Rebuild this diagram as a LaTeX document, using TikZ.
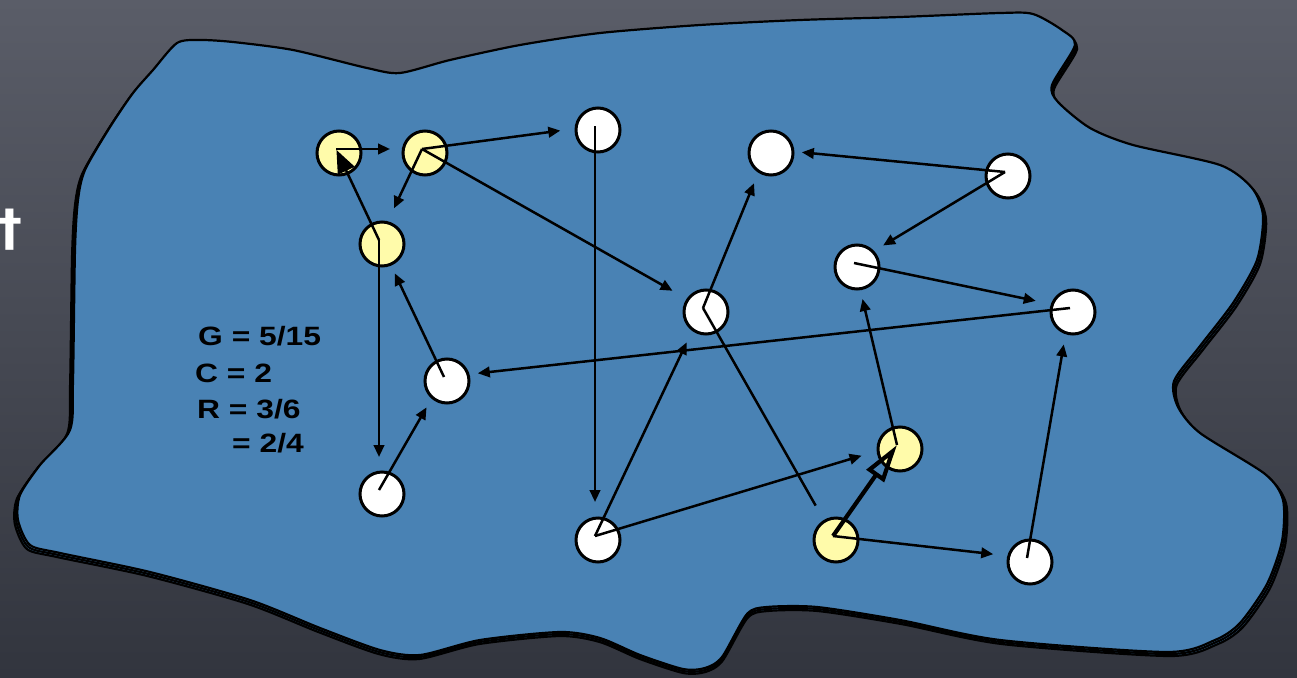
\documentclass[tikz,border=0pt]{standalone}
\usepackage{fontspec}
\setmainfont{Liberation Sans}
\newfontfamily\djv{DejaVu Sans}
\newfontfamily\statfont[FakeStretch=1.2]{Liberation Sans}
\usetikzlibrary{arrows.meta,calc}
\definecolor{bgtop}{RGB}{90,93,104}
\definecolor{bgbot}{RGB}{50,53,62}
\definecolor{blobblue}{RGB}{73,130,180}
\definecolor{nodeyellow}{RGB}{255,251,170}
\tikzset{
  vert/.style={circle, draw=black, line width=3pt, minimum size=44pt, inner sep=0pt},
  wv/.style={vert, fill=white},
  yv/.style={vert, fill=nodeyellow},
  edge/.style={line width=2.5pt, shorten >=35pt, -{Triangle[length=12pt,width=10.5pt]}},
  plainedge/.style={line width=2.5pt, shorten >=35pt},
  bigedge/.style={line width=2.5pt, shorten >=1pt, -{Triangle[length=23pt,width=18pt]}},
  openedge/.style={line width=4.2pt, shorten >=0pt, -{Triangle[open,length=38pt,width=21pt]}},
  blobline/.style={draw=black, line width=2.2pt, fill=blobblue},
  stat/.style={font=\statfont\bfseries\fontsize{26.5}{30}\selectfont, anchor=base west, inner sep=0pt}
}
\begin{document}
\begin{tikzpicture}[x=1pt,y=-1pt]
\useasboundingbox (0,0) rectangle (1297,677);
\clip (0,0) rectangle (1297,677);
\shade[top color=bgtop, bottom color=bgbot] (0,0) rectangle (1297,677);
\node[text=white, font=\djv\bfseries\fontsize{50}{50}\selectfont] (dag) at (10,230) {†};
% blob with layered outline
\foreach \s/\k in {4/1.005,2/1.0025,0/1} {
  \path[blobline, shift={(0,\s)}, xshift={(1-\k)*648pt}, xscale=\k]
    plot[smooth cycle, tension=0.45] coordinates {
    (177,43) (200,40) (233,42) (293,50) (367,68) (400,73) (450,60) (520,45)
    (600,33) (700,25) (800,20) (900,17) (1000,13) (1033,14) (1062,30) (1075,45)
    (1052,85) (1058,102) (1090,128) (1133,145) (1220,165) (1252,188) (1263,216)
    (1257,260) (1233,303) (1200,346) (1174,381) (1178,407) (1200,433) (1265,474)
    (1283,500) (1282,541) (1267,584) (1240,623) (1215,640) (1167,652) (1000,640)
    (900,620) (817,607) (767,607) (747,614) (722,657) (705,668) (683,669)
    (640,655) (600,638) (560,632) (480,640) (420,655) (380,650) (320,628)
    (250,600) (150,572) (60,553) (30,545) (18,520) (20,495) (40,465) (70,430)
    (73,380) (75,250) (78,200) (85,170) (110,127) (133,93) (153,70)};
}
% statistics
\node[stat] (g) at (198,345) {G = 5/15};
\node[stat] (c) at (195,382) {C = 2};
\node[stat] (r) at (197,418) {R = 3/6};
\node[stat] (r2) at (232,452) {= 2/4};
% vertices
\node[yv] (A1) at (339,153) {};
\node[yv] (A2) at (425,153) {};
\node[yv] (A3) at (382,244) {};
\node[wv] (W1) at (598,130) {};
\node[wv] (W2) at (771,153) {};
\node[wv] (W3) at (1008,176) {};
\node[wv] (W4) at (857,267) {};
\node[wv] (W5) at (706,312) {};
\node[wv] (W6) at (1073,312) {};
\node[wv] (W7) at (447,381) {};
\node[yv] (Y4) at (900,449) {};
\node[wv] (W8) at (382,494) {};
\node[wv] (W9) at (598,540) {};
\node[yv] (Y5) at (836,540) {};
\node[wv] (W10) at (1030,562) {};
\foreach \n in {A1,A2,A3,W1,W2,W3,W4,W5,W6,W7,Y4,W8,W9,Y5,W10}
  \coordinate (\n s) at ([shift={(-3,-4)}]\n.center);
% connectors
\draw[edge, shorten >=32pt] (A1s) -- (A2s);
\draw[bigedge] (A3s) -- (A1s);
\draw[edge] (A2s) -- (W1s);
\draw[edge] (A2s) -- (A3s);
\draw[edge] (A2s) -- (W5s);
\draw[edge, shorten >=34pt] (W1s) -- (W9s);
\draw[edge, shorten >=37pt] (W5s) -- (W2s);
\draw[plainedge] (W5s) -- (Y5s);
\draw[edge, shorten >=38pt] (W9s) -- (W5s);
\draw[edge, shorten >=37pt] (W9s) -- (Y4s);
\draw[openedge] (Y5s) -- (Y4s);
\draw[edge, shorten >=34pt] (Y5s) -- (W10s);
\draw[edge, shorten >=37pt] (W10s) -- (W6s);
\draw[edge, shorten >=37pt] (Y4s) -- (W4s);
\draw[edge] (W4s) -- (W6s);
\draw[edge, shorten >=34pt] (W6s) -- (W7s);
\draw[edge, shorten >=34pt] (W3s) -- (W2s);
\draw[edge, shorten >=34pt] (W3s) -- (W4s);
\draw[edge, shorten >=37pt] (W7s) -- (A3s);
\draw[edge, shorten >=33pt] (A3s) -- (W8s);
\draw[edge] (W8s) -- (W7s);
\end{tikzpicture}
\end{document}
